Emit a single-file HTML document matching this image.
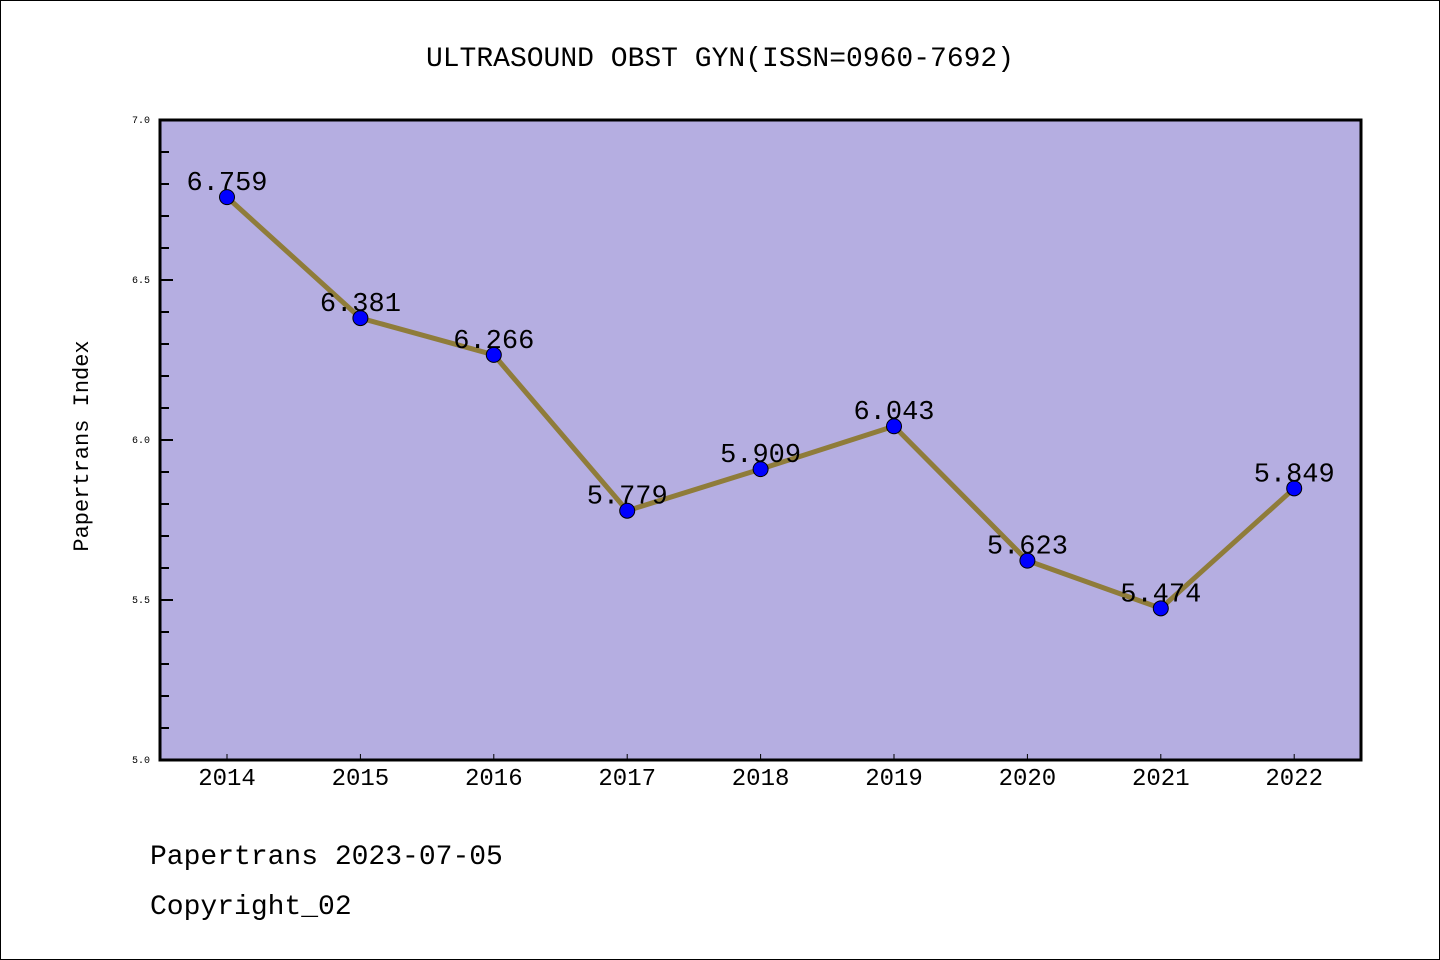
<!DOCTYPE html>
<html><head><meta charset="utf-8"><style>
body{margin:0;background:#fff}
svg{display:block}
text{font-family:"Liberation Mono","DejaVu Sans Mono",monospace}
</style></head><body>
<svg id="c" width="1440" height="960" xmlns="http://www.w3.org/2000/svg">
<rect x="0.5" y="0.5" width="1439" height="959" fill="#fff" stroke="#000"/>
<text x="720" y="66" text-anchor="middle" font-size="28">ULTRASOUND OBST GYN(ISSN=0960-7692)</text>
<rect x="160" y="120" width="1201" height="640" fill="#b5aee1"/>
<g id="axes"></g>
<g id="marks"></g>
<rect x="160" y="120" width="1201" height="640" fill="none" stroke="#000" stroke-width="3"/>
<text x="88" y="446" text-anchor="middle" font-size="22" transform="rotate(-90 88 446)">Papertrans Index</text>
<text x="150" y="864" font-size="28">Papertrans 2023-07-05</text>
<text x="150" y="914" font-size="28">Copyright_02</text>
</svg>
<script>
const years=["2014","2015","2016","2017","2018","2019","2020","2021","2022"];
const values=[6.759,6.381,6.266,5.779,5.909,6.043,5.623,5.474,5.849];
const labels=["6.759","6.381","6.266","5.779","5.909","6.043","5.623","5.474","5.849"];
const yTicks=["5.0","5.5","6.0","6.5","7.0"];
const NS="http://www.w3.org/2000/svg";
const yMin=5,yMax=7;
function yS(v){return 760-(v-yMin)/(yMax-yMin)*640;}
function xS(i){return 227+i*133.4;}
function mk(t,a,p){const e=document.createElementNS(NS,t);for(const k in a)e.setAttribute(k,a[k]);p.appendChild(e);return e;}
const ax=document.getElementById('axes'),mg=document.getElementById('marks');
for(let k=0;k<=20;k++){
  const v=yMin+k*0.1,y=yS(v),maj=k%5===0;
  const t=mk('line',{x1:160,x2:maj?173:169,y1:y,y2:y,stroke:'#000','stroke-width':2},ax);
  
  
}
yTicks.forEach(s=>{
  const t=mk('text',{x:150,y:yS(+s)+3,'text-anchor':'end','font-size':10,'font-family':'Liberation Sans'},ax);
  t.textContent=s;
  
  
});
years.forEach((yr,i)=>{
  const x=xS(i);
  const l=mk('line',{x1:x,x2:x,y1:760,y2:754,stroke:'#000','stroke-width':1},ax);
  
  
  const t=mk('text',{x:x,y:785,'text-anchor':'middle','font-size':24,'font-family':'Liberation Sans'},ax);
  t.textContent=yr;
  
  
});
const pts=values.map((v,i)=>xS(i)+','+yS(v)).join(' ');
const pl=mk('polyline',{points:pts,fill:'none',stroke:'#8f7c3a','stroke-width':5},mg);


values.forEach((v,i)=>{
  const c=mk('circle',{cx:xS(i),cy:yS(v),r:7.5,fill:'#0000ff',stroke:'#000','stroke-width':1},mg);
  
  
  const t=mk('text',{x:xS(i),y:yS(v)-7,'text-anchor':'middle','font-size':27},mg);
  t.textContent=labels[i];
  
  
});
</script>
</body></html>
